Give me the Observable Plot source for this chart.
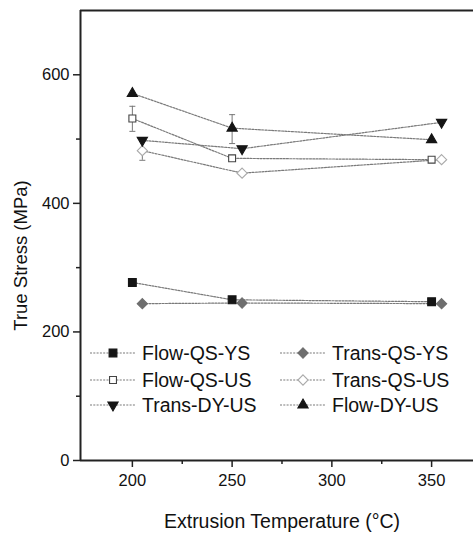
<!DOCTYPE html>
<html>
<head>
<meta charset="utf-8">
<script src="https://cdn.jsdelivr.net/npm/d3@7"></script>
<script src="https://cdn.jsdelivr.net/npm/@observablehq/plot@0.6"></script>
<style>
  html, body { margin: 0; padding: 0; background: #fff; }
  #wrap { position: relative; width: 473px; height: 535px; font-family: "Liberation Sans", Arial, sans-serif; }
  .leg { position: absolute; display: flex; align-items: center; height: 24px; font-size: 19.5px; color: #111; white-space: nowrap; }
  .leg svg { display: block; }
</style>
</head>
<body>
<div id="wrap"></div>
<script>
// ---- data ----
const flowTemps = [200, 250, 350];
const transTemps = [205, 255, 355];
const flowQSYS = [277, 250, 247];
const transQSYS = [244, 245, 244];
const flowQSUS = [532, 470, 468];
const transQSUS = [482, 447, 468];
const transDYUS = [498, 485, 526];
const flowDYUS = [571, 517, 499];

const errTemps = [200, 250, 205];
const errLow = [512, 493, 467];
const errHigh = [551, 538, 496];

const xTicks = [200, 250, 300, 350];
const xMinorTicks = [225, 275, 325];
const yTicks = [0, 200, 400, 600];
const yMinorTicks = [100, 300, 500];
const xDomain = [174, 371];
const yDomain = [0, 700];

const xTitle = "Extrusion Temperature (°C)";
const yTitle = "True Stress (MPa)";

const series = [
  {name: "Flow-QS-YS", xs: flowTemps, ys: flowQSYS, symbol: "square", rotate: 0, fill: "#151515", stroke: "#151515", r: 4.4},
  {name: "Trans-QS-YS", xs: transTemps, ys: transQSYS, symbol: "diamond2", rotate: 0, fill: "#6e6e6e", stroke: "#6e6e6e", r: 4.6},
  {name: "Flow-QS-US", xs: flowTemps, ys: flowQSUS, symbol: "square", rotate: 0, fill: "#fff", stroke: "#444", r: 3.9},
  {name: "Trans-QS-US", xs: transTemps, ys: transQSUS, symbol: "diamond2", rotate: 0, fill: "#fff", stroke: "#aaa", r: 4.6},
  {name: "Trans-DY-US", xs: transTemps, ys: transDYUS, symbol: "triangle", rotate: 180, fill: "#151515", stroke: "#151515", r: 3.8},
  {name: "Flow-DY-US", xs: flowTemps, ys: flowDYUS, symbol: "triangle", rotate: 0, fill: "#151515", stroke: "#151515", r: 3.8}
];

const rows = series.flatMap(s => s.xs.map((x, i) => ({series: s.name, x, y: s.ys[i]})));
const errRows = errTemps.map((x, i) => ({x, lo: errLow[i], hi: errHigh[i]}));

const capSymbol = {draw(ctx) { ctx.moveTo(-3, 0); ctx.lineTo(3, 0); }};

const lineStyle = {stroke: "#7a7a7a", strokeWidth: 1.2, strokeDasharray: "2,1.3"};

const marks = [
  Plot.ruleY([yDomain[1]], {stroke: "#222", strokeWidth: 2}),
  Plot.ruleY([yDomain[0]], {stroke: "#222", strokeWidth: 2}),
  Plot.ruleX([xDomain[0]], {stroke: "#222", strokeWidth: 2}),
  Plot.axisX({ticks: xTicks, tickSize: 7, tickPadding: 7, fontSize: 16.5, label: null, stroke: "#222", strokeWidth: 1.5, fill: "#111"}),
  Plot.axisX({ticks: xMinorTicks, tickSize: 4, text: null, label: null, stroke: "#222", strokeWidth: 1.5}),
  Plot.axisY({ticks: yTicks, tickSize: 7, tickPadding: 4, fontSize: 16.5, label: null, stroke: "#222", strokeWidth: 1.5, fill: "#111"}),
  Plot.axisY({ticks: yMinorTicks, tickSize: 4, text: null, label: null, stroke: "#222", strokeWidth: 1.5}),
  Plot.ruleX(errRows, {x: "x", y1: "lo", y2: "hi", stroke: "#777", strokeWidth: 1}),
  Plot.dot(errRows, {x: "x", y: "lo", symbol: capSymbol, stroke: "#777", strokeWidth: 1}),
  Plot.dot(errRows, {x: "x", y: "hi", symbol: capSymbol, stroke: "#777", strokeWidth: 1}),
  ...series.map(s => Plot.line(rows.filter(d => d.series === s.name), {x: "x", y: "y", ...lineStyle})),
  ...series.map(s => Plot.dot(rows.filter(d => d.series === s.name), {
    x: "x", y: "y", symbol: s.symbol, rotate: s.rotate, r: s.r, fill: s.fill, stroke: s.stroke, strokeWidth: 1.1
  })),
  Plot.text([xTitle], {frameAnchor: "bottom", textAnchor: "middle", dx: 5, dy: 67, fontSize: 19.5, fill: "#111"}),
  Plot.text([yTitle], {frameAnchor: "left", textAnchor: "middle", rotate: -90, dx: -59, dy: 20, fontSize: 18.5, fill: "#111"})
];

const chart = Plot.plot({
  width: 473,
  height: 535,
  marginLeft: 80,
  marginRight: 0,
  marginTop: 10,
  marginBottom: 75,
  x: {domain: xDomain},
  y: {domain: yDomain},
  style: {fontFamily: "'Liberation Sans', Arial, sans-serif", background: "#fff", overflow: "visible"},
  marks
});

const wrap = document.getElementById("wrap");
wrap.appendChild(chart);

// ---- legend (HTML overlay inside the plot area) ----
const legendCols = [88, 278];
const legendRows = [353, 380, 405];
const legendOrder = ["Flow-QS-YS", "Trans-QS-YS", "Flow-QS-US", "Trans-QS-US", "Trans-DY-US", "Flow-DY-US"];

legendOrder.forEach((name, i) => {
  const s = series.find(d => d.name === name);
  const col = i % 2, row = Math.floor(i / 2);
  const div = document.createElement("div");
  div.className = "leg";
  div.style.left = legendCols[col] + "px";
  div.style.top = (legendRows[row] - 12) + "px";
  const ns = "http://www.w3.org/2000/svg";
  const svg = document.createElementNS(ns, "svg");
  svg.setAttribute("width", 50);
  svg.setAttribute("height", 24);
  const ln = document.createElementNS(ns, "line");
  ln.setAttribute("x1", 2); ln.setAttribute("x2", 48);
  ln.setAttribute("y1", 12); ln.setAttribute("y2", 12);
  ln.setAttribute("stroke", lineStyle.stroke);
  ln.setAttribute("stroke-width", lineStyle.strokeWidth);
  ln.setAttribute("stroke-dasharray", lineStyle.strokeDasharray);
  svg.appendChild(ln);
  const symMap = {square: d3.symbolSquare, diamond2: d3.symbolDiamond2, triangle: d3.symbolTriangle};
  const path = document.createElementNS(ns, "path");
  path.setAttribute("d", d3.symbol(symMap[s.symbol], Math.PI * s.r * s.r)());
  path.setAttribute("transform", `translate(25,12) rotate(${s.rotate})`);
  path.setAttribute("fill", s.fill);
  path.setAttribute("stroke", s.stroke);
  path.setAttribute("stroke-width", 1.1);
  svg.appendChild(path);
  div.appendChild(svg);
  const span = document.createElement("span");
  span.textContent = name;
  span.style.marginLeft = "4px";
  div.appendChild(span);
  wrap.appendChild(div);
});
</script>
</body>
</html>
